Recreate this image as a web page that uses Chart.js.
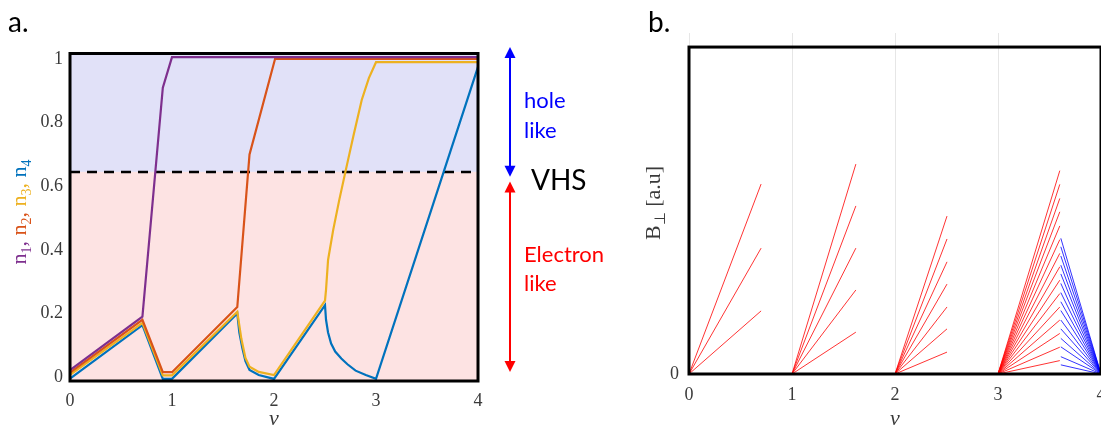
<!DOCTYPE html>
<html>
<head>
<meta charset="utf-8">
<script src="https://cdn.jsdelivr.net/npm/chart.js@4.4.1/dist/chart.umd.min.js"></script>
<style>
  html, body { margin: 0; padding: 0; background: #fff; overflow: hidden; width: 1101px; height: 430px; }
  #contenido { position: relative; width: 1120px; height: 430px; }
  #diagramaA { position: absolute; left: 0; top: 0; }
  #diagramaB { position: absolute; left: 640px; top: 0; }
</style>
</head>
<body>
<div id="contenido">
  <canvas id="diagramaA" width="640" height="430"></canvas>
  <canvas id="diagramaB" width="470" height="430"></canvas>
</div>
<script>
// ---- panel a: n1..n4 against filling nu ----
const n1 = [[0, 0.022], [0.71, 0.19], [0.91, 0.91], [1.0, 1.006], [4, 1.006]];
const n2 = [[0, 0.014], [0.71, 0.18], [0.91, 0.015], [1.0, 0.015], [1.64, 0.22], [1.76, 0.70], [2.01, 1.0], [4, 1.0]];
const n3 = [[0, 0.007], [0.71, 0.17], [0.91, 0.005], [1.0, 0.005], [1.64, 0.205], [1.68, 0.12], [1.72, 0.06],
            [1.76, 0.032], [1.85, 0.016], [2.0, 0.006], [2.5, 0.24], [2.51, 0.274], [2.53, 0.368], [2.58, 0.462],
            [2.64, 0.557], [2.70, 0.645], [2.78, 0.76], [2.86, 0.871], [2.93, 0.94], [3.0, 0.99], [4, 0.99]];
const n4 = [[0, -0.005], [0.71, 0.163], [0.91, -0.006], [1.0, -0.006], [1.64, 0.2], [1.66, 0.14], [1.69, 0.09],
            [1.72, 0.05], [1.76, 0.022], [1.85, 0.006], [2.0, -0.006], [2.5, 0.226], [2.51, 0.18], [2.53, 0.14],
            [2.56, 0.105], [2.6, 0.08], [2.66, 0.058], [2.72, 0.04], [2.8, 0.02], [2.9, 0.006], [3.0, -0.006], [4, 0.975]];
const seriesA = [n1, n2, n3, n4];
const seriesNames = ['1', '2', '3', '4'];
const seriesColors = ['#7e2f8e', '#d95319', '#edb120', '#0072bd'];
const vhs = 0.645;
const ticksAx = [0, 1, 2, 3, 4];
const ticksAy = [0, 0.2, 0.4, 0.6, 0.8, 1];
const ticksAyLabels = ['0', '0.2', '0.4', '0.6', '0.8', '1'];

// ---- panel b: fans from each integer filling ----
const fanOrigins = [0, 1, 2, 3];
const fanEnds = [0.70, 1.62, 2.505, 3.60];
const fan0 = [0.193, 0.385, 0.581];
const fan1 = [0.128, 0.257, 0.385, 0.514, 0.642];
const fan2 = [0.067, 0.138, 0.205, 0.275, 0.343, 0.413, 0.483];
const fan3 = [0.041, 0.082, 0.124, 0.165, 0.205, 0.246, 0.287, 0.328, 0.369, 0.411, 0.453, 0.496, 0.537, 0.580, 0.622];
const holeStart = 3.61;
const holeEnd = 4;
const holeFan = [0.028, 0.053, 0.083, 0.109, 0.138, 0.165, 0.194, 0.221, 0.249, 0.277, 0.306, 0.333, 0.361, 0.389, 0.415];
const ticksBx = [0, 1, 2, 3, 4];
const ticksBy = [0];
const boxTopB = 1;

const serif = 'Liberation Serif';
Chart.defaults.font.family = serif;
Chart.defaults.color = '#3a3a3a';

function aPuntos(lista) {
    return lista.map(p => ({x: p[0], y: p[1]}));
}

// vertical text built from pieces (subscripts shifted down)
function textoVertical(ctx, cx, cy, piezas, tam, tamSub) {
    ctx.save();
    ctx.translate(cx, cy);
    ctx.rotate(-Math.PI / 2);
    ctx.textBaseline = 'alphabetic';
    let total = 0;
    piezas.forEach(p => {
        ctx.font = (p.sub ? tamSub : tam) + 'px "' + serif + '"';
        p.w = ctx.measureText(p.t).width;
        total += p.w;
    });
    let x = -total / 2;
    piezas.forEach(p => {
        ctx.font = (p.sub ? tamSub : tam) + 'px "' + serif + '"';
        ctx.fillStyle = p.c;
        ctx.fillText(p.t, x, p.sub ? 11 : 6);
        x += p.w;
    });
    ctx.restore();
}

function punta(ctx, x, yTip, dir, color) {
    ctx.fillStyle = color;
    ctx.beginPath();
    ctx.moveTo(x, yTip);
    ctx.lineTo(x - 5.5, yTip - dir * 11);
    ctx.lineTo(x + 5.5, yTip - dir * 11);
    ctx.closePath();
    ctx.fill();
}

function flecha(ctx, x, yTop, yBottom, color) {
    ctx.strokeStyle = color;
    ctx.lineWidth = 2;
    ctx.beginPath();
    ctx.moveTo(x, yTop + 8);
    ctx.lineTo(x, yBottom - 8);
    ctx.stroke();
    punta(ctx, x, yTop, -1, color);
    punta(ctx, x, yBottom, 1, color);
}

// x axis: fixed height and no extra side padding from the labels
function ejeX(alto) {
    return scale => {
        scale.height = alto;
        scale.paddingLeft = 0;
        scale.paddingRight = 0;
    };
}

const decoracionA = {
    id: 'decoracionA',
    beforeDatasetsDraw(chart) {
        const {ctx, chartArea: ca, scales: {y}} = chart;
        const yv = y.getPixelForValue(vhs);
        ctx.save();
        ctx.fillStyle = '#e1e1f8';
        ctx.fillRect(ca.left, ca.top, ca.right - ca.left, yv - ca.top);
        ctx.fillStyle = '#fde3e3';
        ctx.fillRect(ca.left, yv, ca.right - ca.left, ca.bottom - yv);
        ctx.restore();
    },
    afterDatasetsDraw(chart) {
        const {ctx, chartArea: ca} = chart;
        ctx.save();
        ctx.strokeStyle = '#000';
        ctx.lineWidth = 3;
        ctx.strokeRect(ca.left, ca.top, ca.right - ca.left, ca.bottom - ca.top);
        ctx.restore();
    },
    afterDraw(chart) {
        const {ctx, scales: {y}} = chart;
        ctx.save();
        ctx.fillStyle = '#000';
        ctx.font = '28px Lato';
        ctx.fillText('a.', 8, 32);

        const xf = 510;
        flecha(ctx, xf, y.getPixelForValue(1.038), y.getPixelForValue(vhs - 0.015), '#0000ff');
        flecha(ctx, xf, y.getPixelForValue(vhs - 0.03), y.getPixelForValue(0.016), '#ff0000');

        ctx.font = '22px Lato';
        ctx.fillStyle = '#0000ff';
        ctx.fillText('hole', 524, 108);
        ctx.fillText('like', 524, 138);
        ctx.fillStyle = '#ff0000';
        ctx.fillText('Electron', 524, 262);
        ctx.fillText('like', 524, 291);
        ctx.fillStyle = '#000';
        ctx.font = '28px Lato';
        ctx.fillText('VHS', 531, 190);

        let piezas = [];
        seriesNames.forEach((s, i) => {
            piezas.push({t: 'n', c: seriesColors[i]});
            piezas.push({t: s, c: seriesColors[i], sub: true});
            if (i < seriesNames.length - 1) piezas.push({t: ', ', c: seriesColors[i]});
        });
        textoVertical(ctx, 20, 212, piezas, 22, 14);
        ctx.restore();
    }
};

const datasetsA = seriesA.map((s, i) => ({
    label: 'n' + seriesNames[i],
    data: aPuntos(s),
    borderColor: seriesColors[i],
    borderWidth: 2.2,
    pointRadius: 0,
    tension: 0,
    fill: false
}));
datasetsA.push({
    label: 'VHS',
    data: aPuntos([[0, vhs], [3.95, vhs]]),
    borderColor: '#000',
    borderWidth: 2.5,
    borderDash: [10, 7],
    pointRadius: 0,
    fill: false
});

new Chart(document.getElementById('diagramaA'), {
    type: 'line',
    data: {datasets: datasetsA},
    plugins: [decoracionA],
    options: {
        responsive: false,
        animation: false,
        layout: {padding: {left: 0, top: 53.5, right: 162, bottom: 0}},
        plugins: {legend: {display: false}, tooltip: {enabled: false}},
        scales: {
            x: {
                type: 'linear', min: 0, max: 4,
                afterBuildTicks: axis => { axis.ticks = ticksAx.map(v => ({value: v})); },
                afterFit: ejeX(49),
                grid: {display: false, drawTicks: false},
                border: {display: false},
                ticks: {padding: 9, font: {family: serif, size: 18}},
                title: {display: true, text: 'ν', font: {family: serif, size: 22, style: 'italic'}, padding: {top: 0, bottom: -2}}
            },
            y: {
                type: 'linear', min: -0.0126, max: 1.0173,
                afterBuildTicks: axis => { axis.ticks = ticksAy.map(v => ({value: v})); },
                afterFit: scale => { scale.width = 70; },
                grid: {display: false, drawTicks: false},
                border: {display: false},
                ticks: {padding: 7, font: {family: serif, size: 18}, callback: v => ticksAyLabels[ticksAy.indexOf(v)]}
            }
        }
    }
});

// ---- panel b ----
function lineasAbanico(origen, fin, alturas, color) {
    return alturas.map(h => ({
        data: [{x: origen, y: 0}, {x: fin, y: h}],
        borderColor: color, borderWidth: 1, pointRadius: 0, fill: false
    }));
}

const fans = [fan0, fan1, fan2, fan3];
let datasetsB = [];
fans.forEach((f, i) => {
    datasetsB = datasetsB.concat(lineasAbanico(fanOrigins[i], fanEnds[i], f, 'rgba(255,0,0,0.8)'));
});
holeFan.forEach(h => {
    datasetsB.push({
        data: [{x: holeStart, y: h}, {x: holeEnd, y: 0}],
        borderColor: 'rgba(0,0,255,0.8)', borderWidth: 1, pointRadius: 0, fill: false
    });
});

const decoracionB = {
    id: 'decoracionB',
    afterDatasetsDraw(chart) {
        const {ctx, chartArea: ca, scales: {y}} = chart;
        const top = y.getPixelForValue(boxTopB);
        ctx.save();
        ctx.strokeStyle = '#000';
        ctx.lineWidth = 3;
        ctx.strokeRect(ca.left, top, ca.right - ca.left, ca.bottom - top);
        ctx.restore();
    },
    afterDraw(chart) {
        const {ctx} = chart;
        ctx.save();
        ctx.fillStyle = '#000';
        ctx.font = '28px Lato';
        ctx.fillText('b.', 8, 32);
        textoVertical(ctx, 14, 203, [
            {t: 'B', c: '#3a3a3a'},
            {t: '⊥', c: '#3a3a3a', sub: true},
            {t: ' [a.u]', c: '#3a3a3a'}
        ], 22, 15);
        ctx.restore();
    }
};

new Chart(document.getElementById('diagramaB'), {
    type: 'line',
    data: {datasets: datasetsB},
    plugins: [decoracionB],
    options: {
        responsive: false,
        animation: false,
        layout: {padding: {left: 0, top: 33, right: 9, bottom: 0}},
        plugins: {legend: {display: false}, tooltip: {enabled: false}},
        scales: {
            x: {
                type: 'linear', min: 0, max: 4,
                afterBuildTicks: axis => { axis.ticks = ticksBx.map(v => ({value: v})); },
                afterFit: ejeX(56),
                grid: {display: true, color: '#e6e6e6', lineWidth: 1, drawTicks: false},
                border: {display: false},
                ticks: {padding: 10, font: {family: serif, size: 18}},
                title: {display: true, text: 'ν', font: {family: serif, size: 22, style: 'italic'}, padding: {top: 0, bottom: -2}}
            },
            y: {
                type: 'linear', min: 0, max: 1.043,
                afterBuildTicks: axis => { axis.ticks = ticksBy.map(v => ({value: v})); },
                afterFit: scale => { scale.width = 49; },
                grid: {display: false, drawTicks: false},
                border: {display: false},
                ticks: {padding: 10, font: {family: serif, size: 18}}
            }
        }
    }
});
</script>
</body>
</html>
